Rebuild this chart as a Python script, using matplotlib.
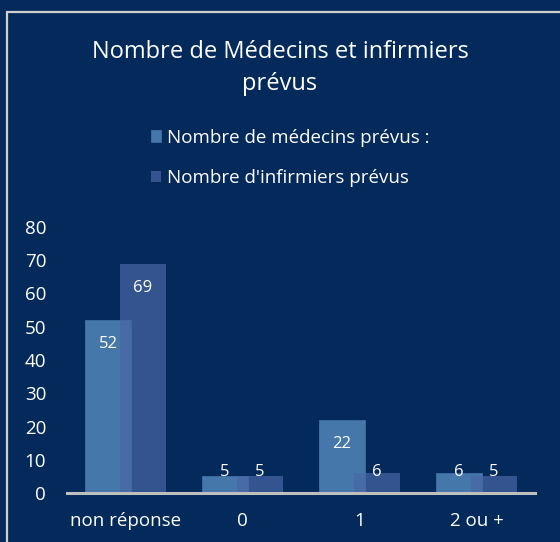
import matplotlib.pyplot as plt
import numpy as np
from matplotlib.patches import Rectangle

categories = ["non réponse", "0", "1", "2 ou +"]
medecins = [52, 5, 22, 6]
infirmiers = [69, 5, 6, 5]
series_names = ["Nombre de médecins prévus :", "Nombre d'infirmiers prévus"]

bg = "#042a5c"
c_med = "#4677ab"
c_inf = "#4867a5"

plt.rcParams['font.family'] = ['Open Sans', 'DejaVu Sans']

fig = plt.figure(figsize=(5.6, 5.42), dpi=100, facecolor=bg)
ax = fig.add_axes([67/560, 49/542, 468/560, 266/542])
ax.set_facecolor(bg)

x = np.arange(len(categories))
w = 0.393
off = 0.15
b1 = ax.bar(x - off, medecins, w, color=c_med, edgecolor="#3f6fa3", linewidth=0.6, zorder=2,
            label=series_names[0])
b2 = ax.bar(x + off, infirmiers, w, color=c_inf, alpha=0.7, edgecolor="none", zorder=3,
            label=series_names[1])

# étiquettes de valeurs
for xs, vals in ((x - off, medecins), (x + off, infirmiers)):
    for xi, v in zip(xs, vals):
        ax.text(xi, max(v - 7.2, 6.4), str(v), ha="center", va="center",
                color="white", fontsize=12, zorder=4)

ax.set_xlim(-0.5, len(categories) - 0.5)
ax.set_ylim(0, 80)
ax.set_yticks(range(0, 81, 10))
ax.set_xticks(x)
ax.set_xticklabels(categories)
for s in ["top", "right", "left"]:
    ax.spines[s].set_visible(False)
ax.spines["bottom"].set_color("#bfbfbf")
ax.spines["bottom"].set_linewidth(2.2)
ax.spines["bottom"].set_zorder(5)
ax.tick_params(axis="both", length=0, colors="white", labelsize=13.5)
ax.tick_params(axis="y", pad=15)
ax.tick_params(axis="x", pad=14)

fig.text(0.5, 1 - 68/542, "Nombre de Médecins et infirmiers\nprévus", ha="center", va="center",
         color="white", fontsize=17, linespacing=1.45)

leg = fig.legend(handles=[b1, b2], loc="center", bbox_to_anchor=(0.5 + 10/560, 1 - 158/542),
                 frameon=False, fontsize=13.5, labelcolor="white", labelspacing=1.2,
                 handlelength=0.55, handleheight=0.55, handletextpad=0.3)

# cadre
fig.patches.append(Rectangle((7/560, -0.1), 1.2, 1 - 12/542 + 0.1, transform=fig.transFigure,
                             fill=False, edgecolor="#d0d0d0", linewidth=1.6))

fig.savefig("out.png", dpi=100, facecolor=bg)
